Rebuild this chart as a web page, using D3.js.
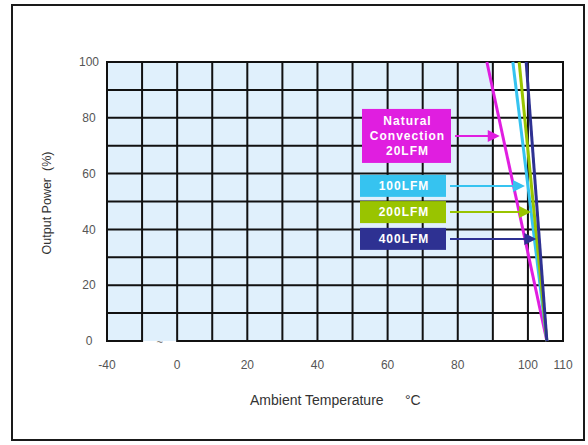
<!DOCTYPE html>
<html>
<head>
<meta charset="utf-8">
<script src="https://cdn.jsdelivr.net/npm/d3@7"></script>
<style>
  body { margin: 0; background: #fff; }
  svg text { font-family: "Liberation Sans", Arial, sans-serif; }
</style>
</head>
<body>
<svg width="588" height="445"></svg>
<script>
// derating curves: temp where output starts to drop (100%) and where it hits 0%
const seriesNames = ["Natural Convection 20LFM", "100LFM", "200LFM", "400LFM"];
const boxLines = [["Natural", "Convection", "20LFM"], ["100LFM"], ["200LFM"], ["400LFM"]];
const tempAt100 = [88.3, 95.7, 97.5, 99.5];
const tempAt0 = [105.4, 105.4, 105.4, 105.4];
const arrowPct = [73.5, 55.6, 46.2, 36.6];
const colors = ["#e01ee0", "#36c3f0", "#99c400", "#2e3192"];

const xTicks = [-40, 0, 20, 40, 60, 80, 100, 110];
const xGrid = [-40, -30, 0, 10, 20, 30, 40, 50, 60, 70, 80, 90, 100, 110];
const yTicks = [0, 20, 40, 60, 80, 100];
const yGrid = [10, 20, 30, 40, 50, 60, 70, 80, 90, 100];

const svg = d3.select("svg");
const plotL = 107, plotR = 563, plotT = 62, plotB = 341;
const colW = (plotR - plotL) / 13;

// axis has a break between -30 and 0, drawn as one column
const x = d3.scaleLinear().domain([-40, -30, 0, 110]).range([plotL, plotL + colW, plotL + 2 * colW, plotR]);
const y = d3.scaleLinear().domain([0, 100]).range([plotB, plotT]);

// outer frame
svg.append("rect").attr("x", 12).attr("y", 5).attr("width", 572).attr("height", 435)
  .attr("fill", "none").attr("stroke", "#1a1a1a").attr("stroke-width", 2);

// light blue area up to 90C
svg.append("rect").attr("x", x(-40)).attr("y", y(100))
  .attr("width", x(90) - x(-40)).attr("height", y(0) - y(100))
  .attr("fill", "#e0f0fc");

const grid = svg.append("g").attr("stroke", "#111").attr("stroke-width", 2);
grid.selectAll(".h").data(yGrid).enter().append("line")
  .attr("x1", x(-40)).attr("x2", x(110)).attr("y1", d => y(d)).attr("y2", d => y(d));
grid.selectAll(".v").data(xGrid).enter().append("line")
  .attr("x1", d => x(d)).attr("x2", d => x(d)).attr("y1", y(0) + 1).attr("y2", y(100) - 1);
// bottom line, open at the break
grid.append("line").attr("x1", x(-40)).attr("x2", x(-30)).attr("y1", y(0)).attr("y2", y(0));
grid.append("line").attr("x1", x(0)).attr("x2", x(110)).attr("y1", y(0)).attr("y2", y(0));

svg.append("text").attr("x", (x(-30) + x(0)) / 2).attr("y", y(0) + 5)
  .attr("text-anchor", "middle").style("font-size", "11px").attr("fill", "#666").text("~");

// tick labels
svg.selectAll(".xt").data(xTicks).enter().append("text")
  .attr("x", d => x(d)).attr("y", 366).attr("text-anchor", "middle")
  .attr("dominant-baseline", "middle").style("font-size", "12px").attr("fill", "#555")
  .text(d => d);
svg.selectAll(".yt").data(yTicks).enter().append("text")
  .attr("x", 89).attr("y", d => y(d) + 1).attr("text-anchor", "middle")
  .attr("dominant-baseline", "middle").style("font-size", "12px").attr("fill", "#555")
  .text(d => d);

// axis titles
svg.append("text").attr("x", 250).attr("y", 401).attr("dominant-baseline", "middle")
  .style("font-size", "14px").attr("fill", "#333").text("Ambient Temperature");
svg.append("text").attr("x", 405).attr("y", 401).attr("dominant-baseline", "middle")
  .style("font-size", "14px").attr("fill", "#333").text("°C");
svg.append("text").attr("transform", "translate(48,203) rotate(-90)")
  .attr("text-anchor", "middle").attr("dominant-baseline", "middle")
  .style("font-size", "12.5px").attr("fill", "#333").attr("xml:space", "preserve")
  .text("Output Power  (%)");

// derating lines
const lineGen = d3.line().x(d => x(d[0])).y(d => y(d[1]));
seriesNames.forEach((name, i) => {
  svg.append("path")
    .attr("d", lineGen([[tempAt100[i], 100], [tempAt0[i], 0]]))
    .attr("stroke", colors[i]).attr("stroke-width", 3).attr("fill", "none");
});

// label boxes with arrows pointing to their line
function lineX(i, pct) {
  const t = tempAt0[i] + (tempAt100[i] - tempAt0[i]) * pct / 100;
  return x(t);
}
seriesNames.forEach((name, i) => {
  const cy = y(arrowPct[i]);
  const bx = i == 0 ? 362 : 360;
  const bw = i == 0 ? 89 : 86;
  const bh = i == 0 ? 54 : 22;
  svg.append("rect").attr("x", bx).attr("y", cy - bh / 2).attr("width", bw).attr("height", bh)
    .attr("fill", colors[i]);
  boxLines[i].forEach((t, j) => {
    svg.append("text").attr("x", bx + bw / 2 + 1)
      .attr("y", cy + (j - (boxLines[i].length - 1) / 2) * 15 + 1)
      .attr("text-anchor", "middle").attr("dominant-baseline", "middle")
      .style("font-size", "12px").style("font-weight", "bold").style("letter-spacing", "1px")
      .attr("fill", "#fff").text(t);
  });
  const x0 = bx + bw + 4;
  const x1 = lineX(i, arrowPct[i]) - 3;
  svg.append("line").attr("x1", x0).attr("x2", x1 - 10).attr("y1", cy).attr("y2", cy)
    .attr("stroke", colors[i]).attr("stroke-width", 2);
  svg.append("path")
    .attr("d", `M${x1},${cy}L${x1 - 12},${cy - 6}L${x1 - 12},${cy + 6}Z`)
    .attr("fill", colors[i]);
});
</script>
</body>
</html>
